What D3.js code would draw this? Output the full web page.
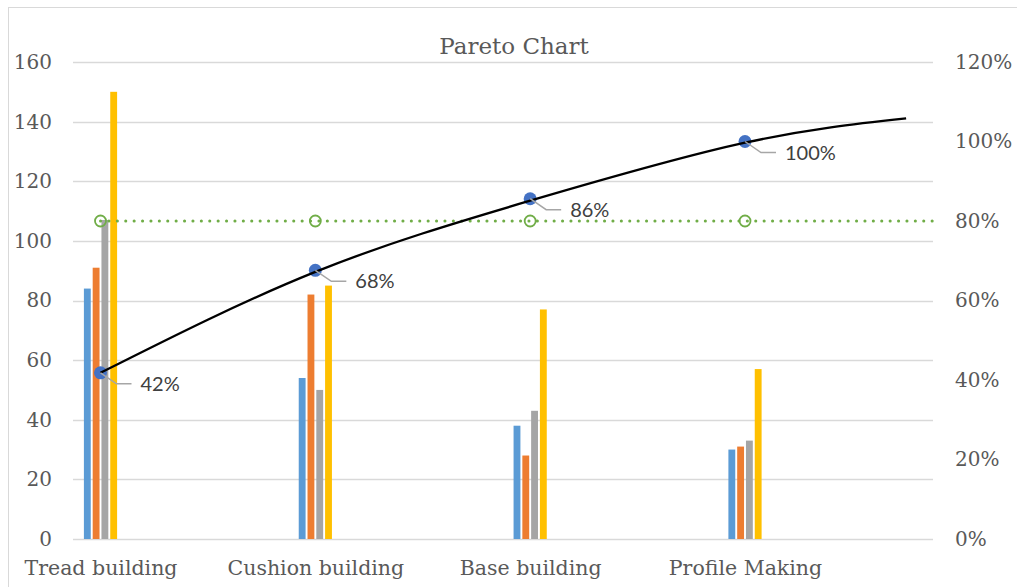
<!DOCTYPE html>
<html>
<head>
<meta charset="utf-8">
<script src="https://d3js.org/d3.v7.min.js"></script>
<style>
  body { margin: 0; background: #fff; }
  svg { display: block; }
</style>
</head>
<body>
<div id="container"></div>
<script>
// data
const categories = ["Tread building", "Cushion building", "Base building", "Profile Making"];
const seriesNames = ["S1", "S2", "S3", "S4"];
const s1 = [84, 54, 38, 30];
const s2 = [91, 82, 28, 31];
const s3 = [107, 50, 43, 33];
const s4 = [150, 85, 77, 57];
const cumulative = [0.418, 0.676, 0.856, 1.0];
const threshold = [0.8, 0.8, 0.8, 0.8];
// trend curve of the cumulative %, estimated along the category index
const trendIdx = [0, 1, 2, 3, 3.75];
const trendPct = [0.418, 0.672, 0.851, 0.997, 1.058];
const leftTicks = [0, 20, 40, 60, 80, 100, 120, 140, 160];
const rightTicks = [0, 0.2, 0.4, 0.6, 0.8, 1.0, 1.2];

const width = 1017, height = 587;
const plotLeft = 73, plotRight = 933, plotTop = 62, plotBottom = 539;
const colors = ["#5B9BD5", "#ED7D31", "#A5A5A5", "#FFC000"];
const serif = "'DejaVu Serif', serif";
const sans = "Lato, 'Open Sans', sans-serif";

const svg = d3.select("#container").append("svg")
    .attr("width", width)
    .attr("height", height);

// chart frame
svg.append("rect")
    .attr("x", 8.5).attr("y", 7.5)
    .attr("width", width + 20).attr("height", height + 20)
    .attr("fill", "#fff")
    .attr("stroke", "#D9D9D9");

const x = d3.scalePoint().domain(categories).range([100.5, 745]);
const xi = d3.scaleLinear().domain([0, categories.length - 1]).range([100.5, 745]);
const x1 = d3.scaleBand().domain(seriesNames).range([-16.6, 16.6]).paddingInner(0.22);
const y = d3.scaleLinear().domain([0, 160]).range([plotBottom, plotTop]);
const yR = d3.scaleLinear().domain([0, 1.2]).range([plotBottom, plotTop]);

// gridlines
svg.append("g")
  .selectAll("line")
  .data(leftTicks)
  .join("line")
    .attr("x1", plotLeft).attr("x2", plotRight)
    .attr("y1", d => Math.round(y(d)) + 0.5)
    .attr("y2", d => Math.round(y(d)) + 0.5)
    .attr("stroke", "#D9D9D9")
    .attr("stroke-width", 1.3);

// left axis
svg.append("g")
    .attr("transform", `translate(${plotLeft},0)`)
    .call(d3.axisLeft(y).tickValues(leftTicks).tickSize(0).tickPadding(21))
    .call(g => g.select(".domain").remove())
    .call(g => g.selectAll("text")
        .attr("fill", "#595959")
        .style("font-family", serif)
        .style("font-size", "20px"));

// right axis
svg.append("g")
    .attr("transform", `translate(${plotRight},0)`)
    .call(d3.axisRight(yR).tickValues(rightTicks).tickSize(0).tickPadding(22)
        .tickFormat(d3.format(".0%")))
    .call(g => g.select(".domain").remove())
    .call(g => g.selectAll("text")
        .attr("fill", "#595959")
        .style("font-family", serif)
        .style("font-size", "20px"));

// bottom axis labels
svg.append("g")
    .attr("transform", `translate(0,${plotBottom})`)
    .call(d3.axisBottom(x).tickSize(0).tickPadding(21))
    .call(g => g.select(".domain").remove())
    .call(g => g.selectAll("text")
        .attr("fill", "#595959")
        .style("font-family", serif)
        .style("font-size", "20.5px"));

// bars
const seriesValues = [s1, s2, s3, s4];
const rows = categories.map((c, i) => ({
  cat: c,
  vals: seriesNames.map((s, j) => ({ s, j, v: seriesValues[j][i] }))
}));

svg.append("g")
  .selectAll("g")
  .data(rows)
  .join("g")
    .attr("transform", d => `translate(${x(d.cat)},0)`)
  .selectAll("rect")
  .data(d => d.vals)
  .join("rect")
    .attr("x", d => x1(d.s))
    .attr("width", x1.bandwidth())
    .attr("y", d => y(d.v))
    .attr("height", d => y(0) - y(d.v))
    .attr("fill", d => colors[d.j]);

// 80% threshold line (dotted), runs on to the plot edge
const thrLine = d3.line()
    .x(d => d[0])
    .y(d => yR(d[1]));
const thrPts = threshold.map((v, i) => [x(categories[i]), v]);
thrPts.push([plotRight, threshold[threshold.length - 1]]);
svg.append("path")
    .attr("d", thrLine(thrPts))
    .attr("fill", "none")
    .attr("stroke", "#70AD47")
    .attr("stroke-width", 3)
    .attr("stroke-linecap", "round")
    .attr("stroke-dasharray", "0.1 8.3");

svg.append("g")
  .selectAll("circle")
  .data(threshold)
  .join("circle")
    .attr("cx", (d, i) => x(categories[i]))
    .attr("cy", d => yR(d))
    .attr("r", 5.5)
    .attr("fill", "none")
    .attr("stroke", "#70AD47")
    .attr("stroke-width", 1.8);

// cumulative markers
svg.append("g")
  .selectAll("circle")
  .data(cumulative)
  .join("circle")
    .attr("cx", (d, i) => x(categories[i]))
    .attr("cy", d => yR(d))
    .attr("r", 6.5)
    .attr("fill", "#4472C4");

// trend curve
const trendLine = d3.line()
    .x(d => xi(d[0]))
    .y(d => yR(d[1]))
    .curve(d3.curveNatural);
svg.append("path")
    .attr("d", trendLine(trendIdx.map((t, i) => [t, trendPct[i]])))
    .attr("fill", "none")
    .attr("stroke", "#000")
    .attr("stroke-width", 2.3);

// data labels with leader lines
const lab = svg.append("g");
cumulative.forEach((v, i) => {
  const cx = x(categories[i]), cy = yR(v);
  lab.append("path")
      .attr("d", `M${cx},${cy}L${cx + 16},${cy + 11}H${cx + 31}`)
      .attr("fill", "none")
      .attr("stroke", "#A6A6A6")
      .attr("stroke-width", 1.5);
  lab.append("text")
      .attr("x", cx + 40)
      .attr("y", cy + 11)
      .attr("dy", "0.35em")
      .attr("fill", "#404040")
      .style("font-family", sans)
      .style("font-size", "20px")
      .text(d3.format(".0%")(v));
});

// title
svg.append("text")
    .attr("x", 514)
    .attr("y", 54)
    .attr("text-anchor", "middle")
    .attr("fill", "#595959")
    .style("font-family", serif)
    .style("font-size", "23px")
    .text("Pareto Chart");
</script>
</body>
</html>
